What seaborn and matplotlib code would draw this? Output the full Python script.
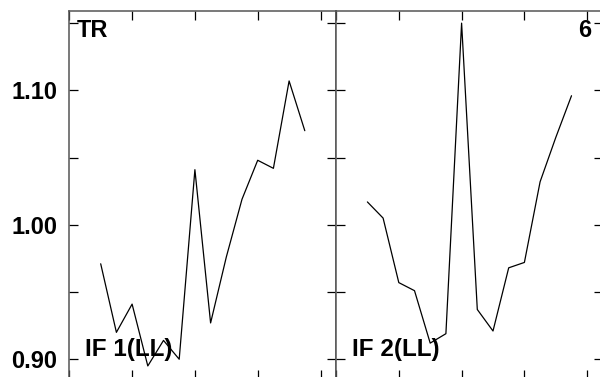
import numpy as np
import pandas as pd
import matplotlib
matplotlib.use('Agg')
import matplotlib.pyplot as plt
import seaborn as sns

# values (x = 2..15 in each panel)
steps = [2, 3, 4, 5, 6, 7, 8, 9, 10, 11, 12, 13, 14, 15]
if1_vals = [0.971, 0.920, 0.941, 0.895, 0.914, 0.900, 1.041, 0.927, 0.976,
            1.019, 1.048, 1.042, 1.107, 1.070]
if2_vals = [1.017, 1.005, 0.957, 0.951, 0.912, 0.919, 1.150, 0.937, 0.921,
            0.968, 0.972, 1.032, 1.065, 1.096]
panel_names = ['IF 1(LL)', 'IF 2(LL)']
ytick_vals = [0.90, 0.95, 1.00, 1.05, 1.10, 1.15]
ytick_labels = ['0.90', '', '1.00', '', '1.10', '']
xtick_vals = [0, 4, 8, 12, 16]

sns.set_style('ticks')
plt.rcParams['font.family'] = ['Liberation Sans', 'DejaVu Sans']
plt.rcParams['font.weight'] = 'bold'
plt.rcParams['text.color'] = 'black'
plt.rcParams['ytick.color'] = 'black'
plt.rcParams['xtick.color'] = 'black'

W, H = 600, 377
fig = plt.figure(figsize=(6, 3.77), dpi=100)

# panel geometry in pixels (the reference is a crop of a bigger figure)
x0, xmid, pw = 69.3, 336.0, 266.9
ytop, ybot = 10.5, 379.0
ax1 = fig.add_axes([x0 / W, 1 - ybot / H, pw / W, (ybot - ytop) / H])
ax2 = fig.add_axes([xmid / W, 1 - ybot / H, pw / W, (ybot - ytop) / H])

df1 = pd.DataFrame({'step': steps, 'value': if1_vals})
df2 = pd.DataFrame({'step': steps, 'value': if2_vals})

for ax, df, name in [(ax1, df1, panel_names[0]), (ax2, df2, panel_names[1])]:
    sns.lineplot(data=df, x='step', y='value', ax=ax, color='black', linewidth=0.9)
    ax.set_xlim(0, 17)
    ax.set_ylim(0.8853, 1.1594)
    ax.set_xticks(xtick_vals)
    ax.set_xticklabels([])
    ax.set_yticks(ytick_vals)
    ax.set_xlabel('')
    ax.set_ylabel('')
    ax.tick_params(axis='both', direction='in', length=6.2, width=0.9,
                   color='black', labelcolor='black',
                   top=True, right=True, left=True, bottom=True)
    for sp in ax.spines.values():
        sp.set_color('#555555')
        sp.set_linewidth(1.1)
    ax.text(1.0, 0.9025, name, fontsize=17.5, fontweight='bold', color='black',
            va='baseline', ha='left')

ax1.set_yticklabels(ytick_labels, fontsize=17, fontweight='bold')
ax1.tick_params(axis='y', pad=8.5)
ax2.set_yticklabels([])

ax1.text(0.49, 1.140, 'TR', fontsize=17, fontweight='bold', color='black',
         va='baseline', ha='left')
ax2.text(16.25, 1.140, '6', fontsize=17, fontweight='bold', color='black',
         va='baseline', ha='right')

fig.savefig('out.png', dpi=100)
